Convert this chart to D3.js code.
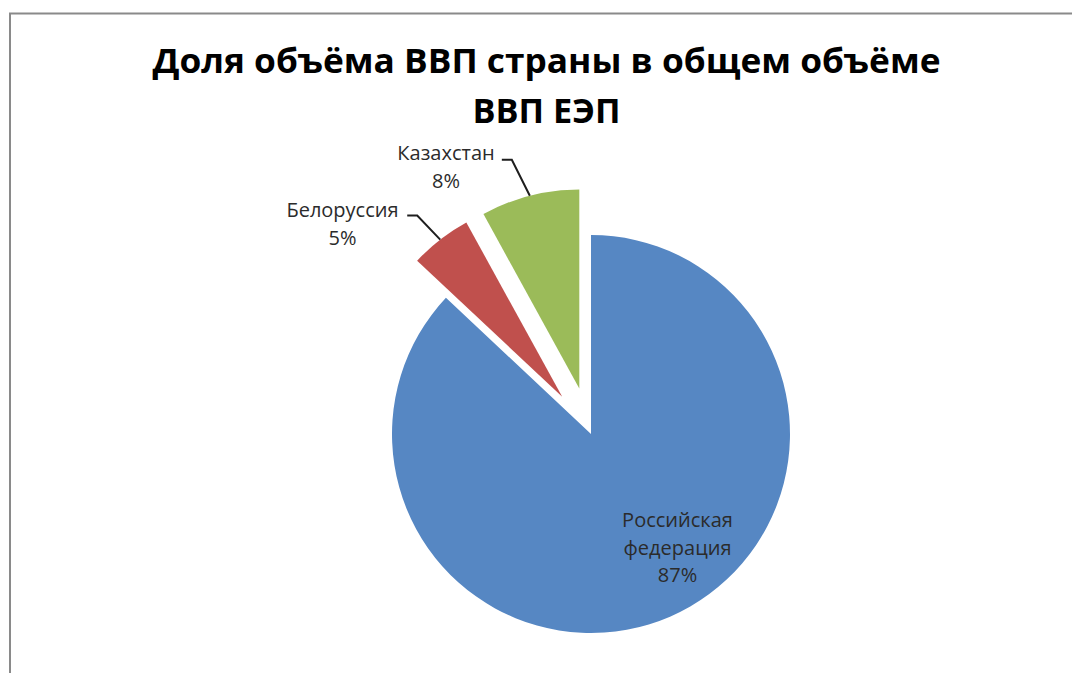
<!DOCTYPE html>
<html lang="ru">
<head>
<meta charset="utf-8">
<title>Доля объёма ВВП страны в общем объёме ВВП ЕЭП</title>
<script src="https://cdn.jsdelivr.net/npm/d3@7"></script>
<style>
  html, body { margin: 0; padding: 0; background: #fff; }
  svg { display: block; }
</style>
</head>
<body>
<div id="chart"></div>
<script>
// GDP share of each member in the total GDP of the Single Economic Space
const titleLines = ["Доля объёма ВВП страны в общем объёме", "ВВП ЕЭП"];
const countries = ["Российская федерация", "Белоруссия", "Казахстан"];
const labelLines = [["Российская", "федерация"], ["Белоруссия"], ["Казахстан"]];
const shares = [87, 5, 8];
const exploded = [false, true, true];
const colors = ["#5687c3", "#c0504d", "#9bbb59"];

const W = 1072, H = 673;
const cx = 591, cy = 434, R = 199, explode = 47;

const svg = d3.select("#chart").append("svg")
  .attr("width", W).attr("height", H)
  .attr("viewBox", `0 0 ${W} ${H}`);

// chart-area frame (only the top and left edges fall inside the page)
svg.append("rect")
  .attr("x", 10).attr("y", 13.5)
  .attr("width", W + 20).attr("height", H + 20)
  .attr("fill", "none")
  .attr("stroke", "#8a8a8a")
  .attr("stroke-width", 2);

// title
const title = svg.append("g")
  .attr("font-family", "'Open Sans', 'Noto Sans', sans-serif")
  .attr("font-weight", 700)
  .attr("font-size", 34)
  .attr("fill", "#000")
  .attr("text-anchor", "middle");
const titleLayout = [{ y: 73, len: 788 }, { y: 123, len: 148 }];
title.selectAll("text").data(titleLines).join("text")
  .attr("x", 546.5)
  .attr("y", (d, i) => titleLayout[i].y)
  .attr("textLength", (d, i) => titleLayout[i].len)
  .attr("lengthAdjust", "spacingAndGlyphs")
  .text(d => d);

// pie
const pie = d3.pie().sort(null).value(d => d.value).startAngle(0).endAngle(2 * Math.PI);
const arcs = pie(shares.map((v, i) => ({ value: v, name: countries[i], i })));
const arc = d3.arc().innerRadius(0).outerRadius(R);

const shift = d => {
  if (!exploded[d.data.i]) return [0, 0];
  const a = (d.startAngle + d.endAngle) / 2;
  return [Math.sin(a) * explode, -Math.cos(a) * explode];
};

const g = svg.append("g").attr("transform", `translate(${cx},${cy})`);
g.selectAll("path.slice").data(arcs).join("path")
  .attr("class", "slice")
  .attr("transform", d => `translate(${shift(d)})`)
  .attr("d", arc)
  .attr("fill", d => colors[d.data.i]);

// labels
const fmtPct = d => Math.round(d.data.value) + "%";
const labelFont = "'Open Sans', 'Noto Sans', sans-serif";
const lineH = 27.5;

// inside label for the large slice, outside labels with leader lines for the small ones
// layout: text block centre (relative to pie centre), first baseline; leader elbow offset from arc edge
const labelLayout = [
  { dx: 86.5, y: 93, inside: true },
  { dx: -248.5, y: -217, stubLen: 10, elbow: [-23, -24] },
  { dx: -145, y: -274, stubLen: 10, elbow: [-18, -36] }
];

const labels = g.append("g")
  .attr("font-family", labelFont)
  .attr("font-size", 20)
  .attr("fill", "#2b2b2b")
  .attr("text-anchor", "middle");

arcs.forEach(d => {
  const L = labelLayout[d.data.i];
  const lines = labelLines[d.data.i].concat([fmtPct(d)]);
  const t = labels.append("text");
  lines.forEach((s, k) => {
    t.append("tspan").attr("x", L.dx).attr("y", L.y + k * lineH).text(s);
  });
  if (!L.inside) {
    const [sx, sy] = shift(d);
    const a = (d.startAngle + d.endAngle) / 2;
    const ex = sx + Math.sin(a) * R, ey = sy - Math.cos(a) * R;
    const bx = ex + L.elbow[0], by = ey + L.elbow[1];
    g.append("path")
      .attr("d", d3.line()([[bx - L.stubLen, by], [bx, by], [ex, ey]]))
      .attr("fill", "none")
      .attr("stroke", "#1e1e1e")
      .attr("stroke-width", 2);
  }
});
</script>
</body>
</html>
